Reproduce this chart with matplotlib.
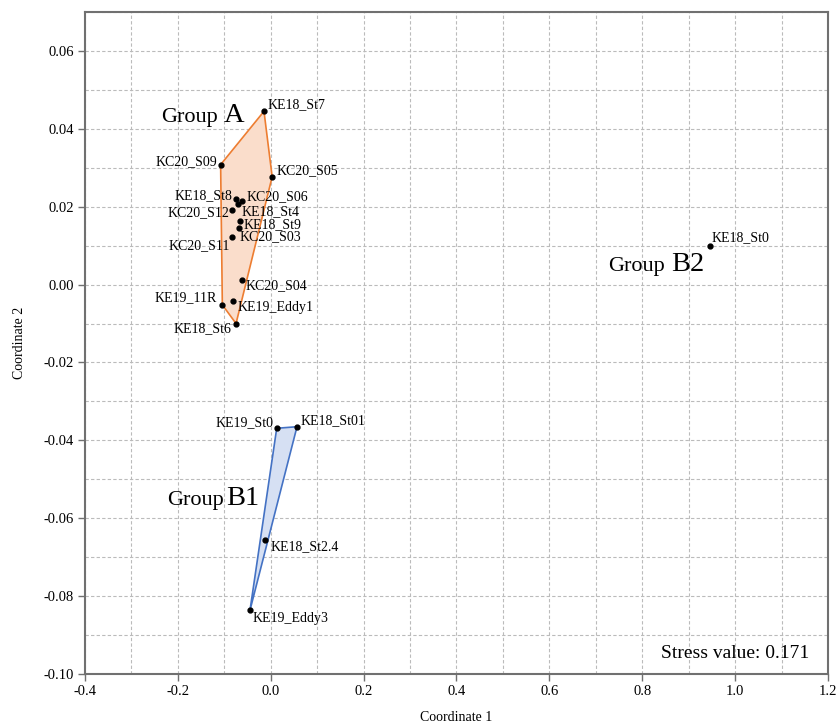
import matplotlib.pyplot as plt
import numpy as np
from matplotlib.ticker import MultipleLocator

plt.rcParams["font.family"] = ["Liberation Serif", "DejaVu Serif"]

# NMDS coordinates per station
group_a_names = ["KE18_St7", "KC20_S09", "KC20_S05", "KE18_St8", "KC20_S06",
                 "KE18_St4", "KC20_S12", "KE18_St9", "KC20_S03", "KC20_S11",
                 "KC20_S04", "KE19_Eddy1", "KE19_11R", "KE18_St6"]
group_a_x = [-0.0146, -0.108, 0.003, -0.0755, -0.063, -0.070, -0.084, -0.067,
             -0.069, -0.084, -0.0626, -0.0807, -0.1043, -0.0748]
group_a_y = [0.0445, 0.0308, 0.0277, 0.0219, 0.0214, 0.0207, 0.0191, 0.0163,
             0.0145, 0.0122, 0.0011, -0.0042, -0.0052, -0.0100]

group_b1_names = ["KE19_St0", "KE18_St01", "KE18_St2.4", "KE19_Eddy3"]
group_b1_x = [0.0128, 0.0565, -0.0118, -0.0447]
group_b1_y = [-0.0369, -0.0365, -0.0656, -0.0836]

group_b2_names = ["KE18_St0"]
group_b2_x = [0.9458]
group_b2_y = [0.0100]

stress = 0.171

# label placement: (dx, dy) in pixels, horizontal alignment
label_pos = {
    "KE18_St7": (4, 3, "left"), "KC20_S09": (-3, 0, "right"),
    "KC20_S05": (4, 3, "left"), "KE18_St8": (-3, 0, "right"),
    "KC20_S06": (5, 1, "left"), "KE18_St4": (3, -11, "left"),
    "KC20_S12": (-2, -6, "right"), "KE18_St9": (4, -7, "left"),
    "KC20_S03": (1, -12, "left"), "KC20_S11": (-2, -12, "right"),
    "KC20_S04": (4, -9, "left"), "KE19_Eddy1": (4, -10, "left"),
    "KE19_11R": (-5, 4, "right"), "KE18_St6": (-5, -9, "right"),
    "KE19_St0": (-3, 2, "right"), "KE18_St01": (4, 3, "left"),
    "KE18_St2.4": (5, -10, "left"), "KE19_Eddy3": (3, -12, "left"),
    "KE18_St0": (2, 5, "left"),
}


def convex_hull(xs, ys):
    pts = sorted(set(zip(xs, ys)))

    def cross(o, a, b):
        return (a[0] - o[0]) * (b[1] - o[1]) - (a[1] - o[1]) * (b[0] - o[0])

    lower, upper = [], []
    for p in pts:
        while len(lower) >= 2 and cross(lower[-2], lower[-1], p) <= 0:
            lower.pop()
        lower.append(p)
    for p in reversed(pts):
        while len(upper) >= 2 and cross(upper[-2], upper[-1], p) <= 0:
            upper.pop()
        upper.append(p)
    return np.array(lower[:-1] + upper[:-1])


fig = plt.figure(figsize=(8.37, 7.27), dpi=100)
ax = fig.add_axes([0.1016, 0.0729, 0.8876, 0.9106])

hull_styles = [
    (group_a_x, group_a_y, "#FADDCB", "#ED7D31"),
    (group_b1_x, group_b1_y, "#D6E0F3", "#4472C4"),
]
for xs, ys, fc, ec in hull_styles:
    hull = convex_hull(xs, ys)
    ax.fill(hull[:, 0], hull[:, 1], facecolor=fc, edgecolor=ec,
            linewidth=1.2, zorder=2)

for names, xs, ys in [(group_a_names, group_a_x, group_a_y),
                      (group_b1_names, group_b1_x, group_b1_y),
                      (group_b2_names, group_b2_x, group_b2_y)]:
    ax.plot(xs, ys, "o", color="black", markersize=3.5, zorder=4)
    for name, x, y in zip(names, xs, ys):
        dx, dy, ha = label_pos[name]
        ax.annotate(name, (x, y), xytext=(dx, dy), textcoords="offset pixels",
                    ha=ha, va="baseline", fontsize=10, zorder=5)

# group titles: smaller "Group" followed by a larger letter
group_titles = [("A", -0.2363, -0.1007, 0.0418),
                ("B1", -0.2228, -0.0951, -0.0567),
                ("B2", 0.7268, 0.8633, 0.0035)]
for letter, gx, lx, by in group_titles:
    ax.text(gx, by, "Group", fontsize=16, ha="left", va="baseline", zorder=5)
    ax.text(lx, by, letter, fontsize=20.5, ha="left", va="baseline", zorder=5)

ax.text(0.9744, 0.0246, f"Stress value: {stress}", transform=ax.transAxes,
        fontsize=14, ha="right", va="baseline")

ax.set_xlim(-0.4, 1.2)
ax.set_ylim(-0.10, 0.07)
ax.xaxis.set_minor_locator(MultipleLocator(0.1))
ax.yaxis.set_minor_locator(MultipleLocator(0.01))
ax.set_xticks([-0.4, -0.2, 0.0, 0.2, 0.4, 0.6, 0.8, 1.0, 1.2])
ax.set_xticklabels([f"{v:.1f}" for v in ax.get_xticks()])
ax.set_yticks([-0.10, -0.08, -0.06, -0.04, -0.02, 0.00, 0.02, 0.04, 0.06])
ax.set_yticklabels([f"{v:.2f}" for v in ax.get_yticks()])

ax.grid(which="both", color="#BBBBBB", linestyle=(0, (3, 2)), linewidth=0.8)
ax.set_axisbelow(True)
ax.tick_params(which="major", length=5, width=1, color="#707070",
               labelsize=10.5, pad=3)
ax.tick_params(which="minor", length=0)
for spine in ax.spines.values():
    spine.set_color("#707070")
    spine.set_linewidth(1.5)

ax.set_xlabel("Coordinate 1", fontsize=10)
ax.xaxis.set_label_coords(0.5, -0.056)
ax.set_ylabel("Coordinate 2", fontsize=10)
ax.yaxis.set_label_coords(-0.079, 0.5)

fig.savefig("out.png", dpi=100)
